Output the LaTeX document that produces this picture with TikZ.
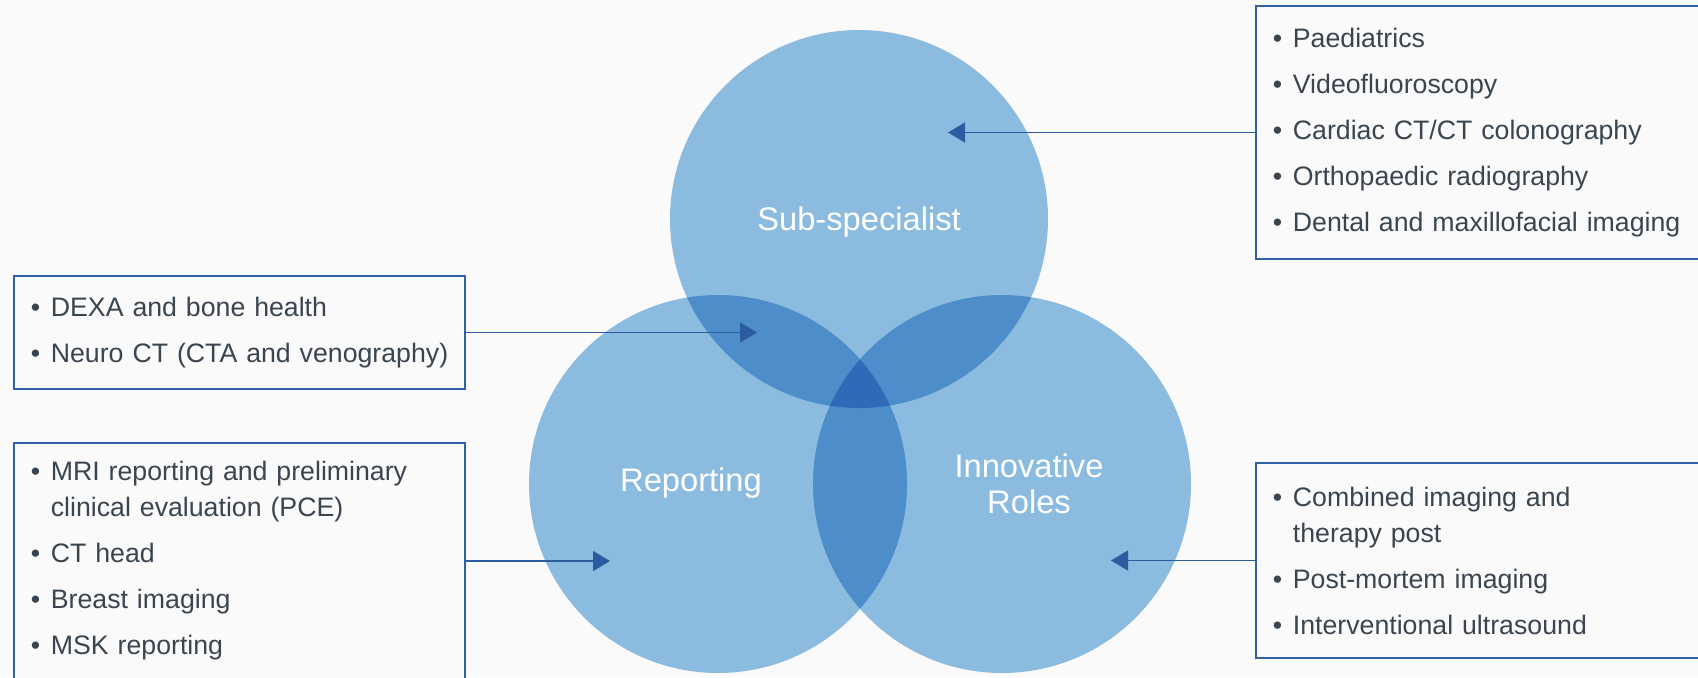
\documentclass[tikz,border=0pt]{standalone}
\usepackage{fontspec}
\setmainfont{Liberation Sans}
\usepackage{xcolor}
\usetikzlibrary{arrows.meta}
\definecolor{paper}{HTML}{FAFAFA}
\definecolor{vennL}{HTML}{8CBBE0}
\definecolor{vennM}{HTML}{4D8DC9}
\definecolor{vennD}{HTML}{2E6AB7}
\definecolor{boxline}{HTML}{2F60A8}
\definecolor{arrowc}{HTML}{2A5C9F}
\definecolor{listtext}{HTML}{3B4550}
\newcommand{\bitem}[1]{\parskip=0.1cm\leftskip=0.12cm\hangindent=0.2cm\hangafter=1\noindent
  \makebox[0.2cm][l]{\textbullet}#1\par}
\tikzset{
  listbox/.style={draw=boxline, line width=0.5pt, fill=paper, inner xsep=0.05cm,
                  inner ysep=0pt, align=left, text=listtext, anchor=west,
                  font=\fontsize{7.6}{10.24}\selectfont, text width=#1},
  listbox/.default=4.49cm,
  vennlabel/.style={text=white, align=center, font=\fontsize{9.3}{10.24}\selectfont},
  pointer/.style={draw=arrowc, line width=0.45pt, -{Triangle[length=0.17cm, width=0.2cm]}}}

\begin{document}
\begin{tikzpicture}[x=1cm, y=1cm]
  \fill[paper] (0,0) rectangle (16.98,6.77);
  \useasboundingbox (0,0) rectangle (16.98,6.77);
  \coordinate (cTop) at (8.59,4.58);
  \coordinate (cLeft) at (7.18,1.93);
  \coordinate (cRight) at (10.02,1.93);
  % three circles, light
  \foreach \c in {cTop,cLeft,cRight}{\fill[vennL] (\c) circle (1.89);}
  % overlaps of two
  \begin{scope}
    \clip (cTop) circle (1.89);
    \fill[vennM] (cLeft) circle (1.89);
    \fill[vennM] (cRight) circle (1.89);
  \end{scope}
  \begin{scope}
    \clip (cLeft) circle (1.89);
    \fill[vennM] (cRight) circle (1.89);
  \end{scope}
  % overlap of all three
  \begin{scope}
    \clip (cTop) circle (1.89);
    \clip (cLeft) circle (1.89);
    \fill[vennD] (cRight) circle (1.89);
  \end{scope}
  \node[vennlabel] (subLabel) at (8.59,4.55) {Sub-specialist};
  \node[vennlabel] (repLabel) at (6.91,1.94) {Reporting};
  \node[vennlabel] (innLabel) at (10.29,1.93) {Innovative\\Roles};
  % lists
  \node[listbox, minimum height=2.53cm] (subBox) at (12.55,5.445) {%
    \bitem{Paediatrics}
    \bitem{Videofluoroscopy}
    \bitem{Cardiac CT/CT colonography}
    \bitem{Orthopaedic radiography}
    \bitem{Dental and maxillofacial imaging}};
  \node[listbox=4.41cm, minimum height=1.13cm] (dexaBox) at (0.13,3.445) {%
    \bitem{DEXA and bone health}
    \bitem{Neuro CT (CTA and venography)}};
  \node[listbox=4.41cm, minimum height=2.36cm] (repBox) at (0.13,1.16) {%
    \bitem{MRI reporting and preliminary\newline clinical evaluation (PCE)}
    \bitem{CT head}
    \bitem{Breast imaging}
    \bitem{MSK reporting}};
  \node[listbox, minimum height=1.95cm] (innBox) at (12.55,1.165) {%
    \bitem{Combined imaging and\newline therapy post}
    \bitem{Post-mortem imaging}
    \bitem{Interventional ultrasound}};
  % pointers into the circles
  \coordinate (subTip) at (9.48,5.445);
  \coordinate (dexaTip) at (7.57,3.445);
  \coordinate (repTip) at (6.10,1.16);
  \coordinate (innTip) at (11.11,1.165);
  \draw[pointer] (subBox.west) -- (subTip);
  \draw[pointer] (dexaBox.east) -- (dexaTip);
  \draw[pointer] (repBox.east) -- (repTip);
  \draw[pointer] (innBox.west) -- (innTip);
\end{tikzpicture}
\end{document}
